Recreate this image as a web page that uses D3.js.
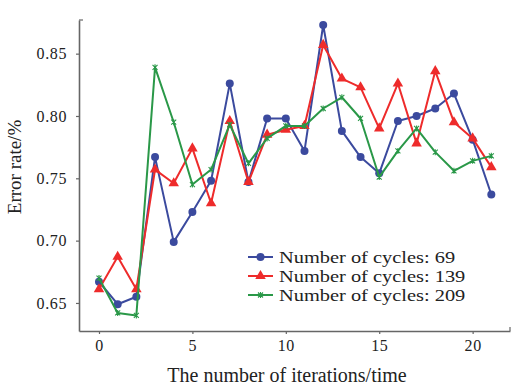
<!DOCTYPE html>
<html>
<head>
<meta charset="utf-8">
<script src="https://cdn.jsdelivr.net/npm/d3@7"></script>
<style>
  html, body { margin: 0; padding: 0; background: #fff; }
  svg { display: block; font-family: "Liberation Serif", "Times New Roman", serif; }
</style>
</head>
<body>
<svg id="chart" width="512" height="389"></svg>
<script>
const iterations = d3.range(0, 22);
const cycles69  = [0.667, 0.649, 0.655, 0.767, 0.699, 0.723, 0.748, 0.826, 0.747, 0.798, 0.798, 0.772, 0.873, 0.788, 0.767, 0.754, 0.796, 0.800, 0.806, 0.818, 0.781, 0.737];
const cycles139 = [0.661, 0.687, 0.661, 0.757, 0.746, 0.774, 0.730, 0.796, 0.747, 0.785, 0.789, 0.792, 0.857, 0.830, 0.823, 0.790, 0.826, 0.778, 0.836, 0.795, 0.782, 0.759];
const cycles209 = [0.670, 0.642, 0.640, 0.839, 0.795, 0.745, 0.757, 0.793, 0.762, 0.782, 0.792, 0.792, 0.806, 0.815, 0.798, 0.751, 0.772, 0.790, 0.771, 0.756, 0.764, 0.768];
const seriesNames = ["Number of cycles: 69", "Number of cycles: 139", "Number of cycles: 209"];
const xTicks = [0, 5, 10, 15, 20];
const yTicks = [0.65, 0.70, 0.75, 0.80, 0.85];
const xTitle = "The number of iterations/time";
const yTitle = "Error rate/%";

const colors = ["#3b4a9e", "#ee2b2b", "#2a9848"];
const shapes = ["circle", "triangle", "cross"];
const series = [cycles69, cycles139, cycles209];

const svg = d3.select("#chart");
const x = d3.scaleLinear().domain([-1.07, 22]).range([79, 510]);
const y = d3.scaleLinear().domain([0.6275, 0.877]).range([331, 20]);

const axisColor = "#666";

// axes
const gx = svg.append("g").attr("transform", `translate(0,${y.range()[0]})`)
  .call(d3.axisBottom(x).tickValues(xTicks).tickSize(3).tickSizeOuter(0).tickPadding(6));
const gy = svg.append("g").attr("transform", `translate(${x.range()[0]},0)`)
  .call(d3.axisLeft(y).tickValues(yTicks).tickFormat(d3.format(".2f")).tickSize(3).tickSizeOuter(0).tickPadding(9));
[gx, gy].forEach(g => {
  g.select(".domain").attr("stroke", axisColor).attr("stroke-width", 1.6);
  g.selectAll(".tick line").attr("stroke", axisColor).attr("stroke-width", 1.2);
  g.selectAll(".tick text").attr("fill", "#222").style("font-family", "Liberation Serif, serif")
    .style("font-size", "16px").style("letter-spacing", "0.6px");
});
// end caps
svg.append("line").attr("x1", x.range()[0]).attr("x2", x.range()[0] + 4)
  .attr("y1", y.range()[1]).attr("y2", y.range()[1]).attr("stroke", axisColor).attr("stroke-width", 1.2);
svg.append("line").attr("x1", x.range()[1]).attr("x2", x.range()[1])
  .attr("y1", y.range()[0]).attr("y2", y.range()[0] - 4).attr("stroke", axisColor).attr("stroke-width", 1.2);

// titles
svg.append("text").attr("x", 287).attr("y", 382).attr("text-anchor", "middle")
  .style("font-size", "20px").attr("fill", "#222").text(xTitle);
svg.append("text").attr("transform", "translate(21,167) rotate(-90)").attr("text-anchor", "middle")
  .style("font-size", "19px").attr("fill", "#222").text(yTitle);

function drawMarker(g, shape, color, cx, cy) {
  if (shape === "circle") {
    g.append("circle").attr("cx", cx).attr("cy", cy).attr("r", 4).attr("fill", color);
  } else if (shape === "triangle") {
    g.append("path").attr("d", d3.symbol().type(d3.symbolTriangle).size(48)())
      .attr("transform", `translate(${cx},${cy})`).attr("fill", color);
  } else {
    g.append("path").attr("d", `M-2.5,-2.5L2.5,2.5M-2.5,2.5L2.5,-2.5M0,-3L0,3`)
      .attr("transform", `translate(${cx},${cy})`).attr("stroke", color).attr("stroke-width", 1.1).attr("fill", "none");
  }
}

const line = d3.line().x((d, i) => x(iterations[i])).y(d => y(d));
series.forEach((vals, k) => {
  const g = svg.append("g");
  g.append("path").datum(vals).attr("d", line).attr("fill", "none")
    .attr("stroke", colors[k]).attr("stroke-width", 2).attr("stroke-linejoin", "round");
  vals.forEach((v, i) => drawMarker(g, shapes[k], colors[k], x(iterations[i]), y(v)));
});

// legend
const legendY = [257, 276, 295];
seriesNames.forEach((name, k) => {
  const g = svg.append("g");
  g.append("line").attr("x1", 248).attr("x2", 273).attr("y1", legendY[k]).attr("y2", legendY[k])
    .attr("stroke", colors[k]).attr("stroke-width", 2);
  drawMarker(g, shapes[k], colors[k], 260.5, legendY[k]);
  g.append("text").attr("transform", `translate(279,${legendY[k] + 5.5}) scale(1.2,1)`)
    .style("font-size", "17px").attr("fill", "#222").text(name);
});
</script>
</body>
</html>
